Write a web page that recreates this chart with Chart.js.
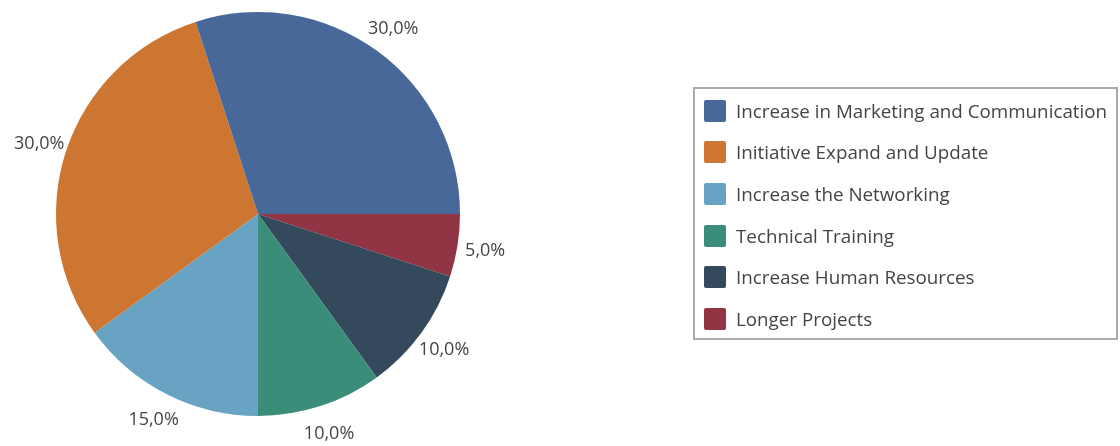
<!DOCTYPE html>
<html>
<head>
<meta charset="utf-8">
<script src="https://cdn.jsdelivr.net/npm/chart.js@4"></script>
<style>
  body { margin: 0; background: #fff; }
  #wrap { position: relative; width: 1120px; height: 446px; }
  #legend {
    position: absolute; left: 693px; top: 87px; width: 425px; height: 253px;
    border: 2px solid #aaa; box-sizing: border-box; padding-top: 1px;
    font-family: "Open Sans", sans-serif; font-size: 18.8px; color: #444;
  }
  .item { display: flex; align-items: center; height: 41.6px; padding-left: 9px; }
  .box { width: 22px; height: 22px; border-radius: 2px; margin-right: 10px; }
</style>
</head>
<body>
<div id="wrap">
  <canvas id="chart" width="1120" height="446"></canvas>
  <div id="legend"></div>
</div>
<script>
// categories in legend order (first slice sits counter-clockwise from 3 o'clock)
const categories = [
  'Increase in Marketing and Communication',
  'Initiative Expand and Update',
  'Increase the Networking',
  'Technical Training',
  'Increase Human Resources',
  'Longer Projects'
];
const values = [30, 30, 15, 10, 10, 5];
const colors = ['#476898', '#cd7631', '#68a3c4', '#3a8e79', '#34495b', '#913444'];

// Chart.js draws clockwise, the reference goes counter-clockwise -> feed reversed
const drawLabels = categories.slice().reverse();
const drawValues = values.slice().reverse();
const drawColors = colors.slice().reverse();

const total = values.reduce((a, b) => a + b, 0);

const outsideLabels = {
  id: 'outsideLabels',
  afterDatasetsDraw(chart) {
    const ctx = chart.ctx;
    const meta = chart.getDatasetMeta(0);
    ctx.save();
    ctx.font = '18px "Open Sans", sans-serif';
    ctx.fillStyle = '#444';
    ctx.textAlign = 'center';
    ctx.textBaseline = 'middle';
    meta.data.forEach((arc, i) => {
      const mid = (arc.startAngle + arc.endAngle) / 2;
      const r = arc.outerRadius + 28;
      const x = arc.x + Math.cos(mid) * r;
      const y = arc.y + Math.sin(mid) * r;
      const pct = (drawValues[i] / total * 100).toFixed(1).replace('.', ',') + '%';
      ctx.fillText(pct, x, y + 1);
    });
    ctx.restore();
  }
};

new Chart(document.getElementById('chart').getContext('2d'), {
  type: 'pie',
  data: {
    labels: drawLabels,
    datasets: [{
      data: drawValues,
      backgroundColor: drawColors,
      borderWidth: 0
    }]
  },
  options: {
    responsive: false,
    animation: false,
    rotation: 90,
    layout: { padding: { left: 56, right: 660, top: 12, bottom: 30 } },
    plugins: {
      legend: { display: false },
      tooltip: { enabled: false }
    }
  },
  plugins: [outsideLabels]
});

// legend in original order
const legend = document.getElementById('legend');
categories.forEach((name, i) => {
  const row = document.createElement('div');
  row.className = 'item';
  row.innerHTML = `<div class="box" style="background:${colors[i]}"></div><span>${name}</span>`;
  legend.appendChild(row);
});
</script>
</body>
</html>
